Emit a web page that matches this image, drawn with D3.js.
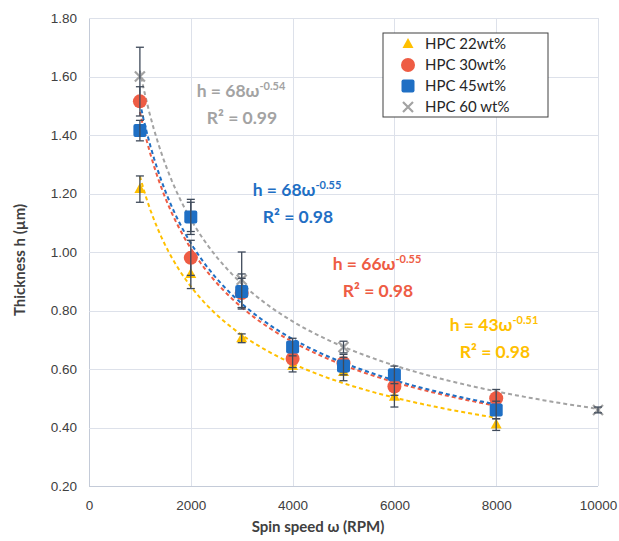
<!DOCTYPE html>
<html>
<head>
<meta charset="utf-8">
<script src="https://cdn.jsdelivr.net/npm/d3@7"></script>
<style>
	body { margin: 0; background: #fff; }
	svg { font-family: Lato, "Open Sans", sans-serif; }
	.grid line { stroke: #dde1ea; stroke-width: 1; shape-rendering: crispEdges; }
	.axis path, .axis line { display: none; }
	.axis text { font-size: 13.5px; fill: #404040; }
</style>
</head>
<body>
<div id="chart"></div>
<script>
// data
const speeds = [1000, 2000, 3000, 4000, 5000, 6000, 8000];
const hpc22 = [1.215, 0.925, 0.705, 0.61, 0.59, 0.505, 0.41];
const err22 = [0.045, 0.05, 0.015, 0.02, 0.03, 0.035, 0.02];
const hpc30 = [1.515, 0.98, 0.86, 0.635, 0.62, 0.54, 0.50];
const err30 = [0.05, 0.06, 0.05, 0.03, 0.03, 0.03, 0.03];
const hpc45 = [1.415, 1.12, 0.865, 0.675, 0.61, 0.58, 0.46];
const err45 = [0.035, 0.06, 0.06, 0.03, 0.03, 0.03, 0.03];
const speeds60 = [1000, 2000, 3000, 5000, 10000];
const hpc60 = [1.60, 1.12, 0.905, 0.675, 0.46];
const err60 = [0.10, 0.05, 0.095, 0.02, 0.01];

const xTicks = [0, 2000, 4000, 6000, 8000, 10000];
const yTicks = [0.20, 0.40, 0.60, 0.80, 1.00, 1.20, 1.40, 1.60, 1.80];

const series = [
	{ name: "HPC 60 wt%", xs: speeds60, ys: hpc60, es: err60, color: "#a3a3a3", shape: "x", eq: ["68", "-0.54"], r2: "0.99", lab: [241, 97] },
	{ name: "HPC 22wt%", xs: speeds, ys: hpc22, es: err22, color: "#ffc000", shape: "tri", eq: ["43", "-0.51"], r2: "0.98", lab: [494, 331] },
	{ name: "HPC 30wt%", xs: speeds, ys: hpc30, es: err30, color: "#ee5c44", shape: "circle", eq: ["66", "-0.55"], r2: "0.98", lab: [377, 270] },
	{ name: "HPC 45wt%", xs: speeds, ys: hpc45, es: err45, color: "#1f6fc4", shape: "square", eq: ["68", "-0.55"], r2: "0.98", lab: [297, 196] }
];
const legendOrder = [1, 2, 3, 0];

const W = 619, H = 541;
const margin = { left: 89, right: 21, top: 18, bottom: 55 };

const x = d3.scaleLinear().domain([0, 10000]).range([margin.left, W - margin.right]);
const y = d3.scaleLinear().domain([0.2, 1.8]).range([H - margin.bottom, margin.top]);

const svg = d3.select("#chart").append("svg").attr("width", W).attr("height", H);

// gridlines
svg.append("g").attr("class", "grid")
	.attr("transform", "translate(0," + margin.top + ")")
	.call(d3.axisBottom(x).tickValues(xTicks).tickSize(H - margin.bottom - margin.top).tickFormat(""))
	.select(".domain").remove();
svg.append("g").attr("class", "grid")
	.attr("transform", "translate(" + (W - margin.right) + ",0)")
	.call(d3.axisLeft(y).tickValues(yTicks).tickSize(W - margin.right - margin.left).tickFormat(""))
	.select(".domain").remove();
svg.selectAll(".grid line").filter(function(d) { return d === 0 || d === 0.2; }).style("stroke", "#c4cbd8");

// axes
svg.append("g").attr("class", "axis")
	.attr("transform", "translate(0," + (H - margin.bottom + 6) + ")")
	.call(d3.axisBottom(x).tickValues(xTicks).tickFormat(d3.format("d")).tickSize(0).tickPadding(8));
svg.append("g").attr("class", "axis")
	.attr("transform", "translate(" + (margin.left - 12) + ",0)")
	.call(d3.axisLeft(y).tickValues(yTicks).tickFormat(d3.format(".2f")).tickSize(0).tickPadding(0));

svg.append("text").attr("x", 318).attr("y", 532).attr("text-anchor", "middle")
	.style("font-size", "15px").style("font-weight", "bold").attr("fill", "#404040")
	.text("Spin speed ω (RPM)");
svg.append("text").attr("transform", "translate(25,260) rotate(-90)").attr("text-anchor", "middle")
	.style("font-size", "15px").style("font-weight", "bold").attr("fill", "#404040")
	.text("Thickness h (µm)");

// power-law fit like Excel trendline
function powerFit(xs, ys) {
	let lx = xs.map(Math.log), ly = ys.map(Math.log);
	let mx = d3.mean(lx), my = d3.mean(ly);
	let b = d3.sum(lx, (v, i) => (v - mx) * (ly[i] - my)) / d3.sum(lx, v => (v - mx) * (v - mx));
	let a = Math.exp(my - b * mx);
	return { a: a, b: b };
}

const line = d3.line().x(d => x(d[0])).y(d => y(d[1]));
series.forEach(function(s) {
	let f = powerFit(s.xs, s.ys);
	let x0 = d3.min(s.xs), x1 = d3.max(s.xs);
	let pts = d3.range(0, 101).map(i => { let w = x0 + (x1 - x0) * i / 100; return [w, f.a * Math.pow(w, f.b)]; });
	svg.append("path").attr("d", line(pts)).attr("fill", "none")
		.attr("stroke", s.color).attr("stroke-width", 2).attr("stroke-dasharray", "4,3");
});

function drawMarker(g, shape, color) {
	if (shape === "tri") {
		g.append("path").attr("d", "M0,-6L5.5,4L-5.5,4Z").attr("fill", color);
	} else if (shape === "circle") {
		g.append("circle").attr("r", 7).attr("fill", color);
	} else if (shape === "square") {
		g.append("rect").attr("x", -6.5).attr("y", -6.5).attr("width", 13).attr("height", 13).attr("rx", 2).attr("fill", color);
	} else {
		g.append("path").attr("d", "M-5,-5L5,5M5,-5L-5,5").attr("stroke", color).attr("stroke-width", 2.2).attr("fill", "none");
	}
}

// markers and error bars
series.forEach(function(s) {
	let pts = s.xs.map((w, i) => ({ w: w, h: s.ys[i], e: s.es[i] }));
	let g = svg.append("g");
	pts.forEach(function(p) {
		let m = g.append("g").attr("transform", "translate(" + x(p.w) + "," + y(p.h) + ")");
		drawMarker(m, s.shape, s.color);
	});
	let eb = svg.append("g").attr("stroke", "#3f4a5a").attr("stroke-width", 1.3);
	pts.forEach(function(p) {
		let cx = x(p.w), t = y(p.h + p.e), b = y(p.h - p.e);
		eb.append("line").attr("x1", cx).attr("x2", cx).attr("y1", t).attr("y2", b);
		eb.append("line").attr("x1", cx - 4).attr("x2", cx + 4).attr("y1", t).attr("y2", t);
		eb.append("line").attr("x1", cx - 4).attr("x2", cx + 4).attr("y1", b).attr("y2", b);
	});
});

// trendline labels
series.forEach(function(s) {
	let t = svg.append("text").attr("x", s.lab[0]).attr("y", s.lab[1]).attr("text-anchor", "middle")
		.attr("fill", s.color).style("font-weight", "bold").style("font-size", "17.5px");
	t.append("tspan").text("h = " + s.eq[0] + "ω");
	t.append("tspan").attr("dy", -7).style("font-size", "11px").text(s.eq[1]);
	svg.append("text").attr("x", s.lab[0] + 1).attr("y", s.lab[1] + 27).attr("text-anchor", "middle")
		.attr("fill", s.color).style("font-weight", "bold").style("font-size", "17.5px")
		.text("R² = " + s.r2);
});

// legend
const lg = svg.append("g").attr("transform", "translate(383,33)");
lg.append("rect").attr("width", 165).attr("height", 84).attr("fill", "#fff")
	.attr("stroke", "#404040").attr("stroke-width", 1);
legendOrder.forEach(function(k, i) {
	let s = series[k];
	let m = lg.append("g").attr("transform", "translate(25," + (11 + i * 21) + ")");
	drawMarker(m, s.shape, s.color);
	lg.append("text").attr("x", 42).attr("y", 16 + i * 21).style("font-size", "15px")
		.attr("fill", "#262626").text(s.name);
});
</script>
</body>
</html>
